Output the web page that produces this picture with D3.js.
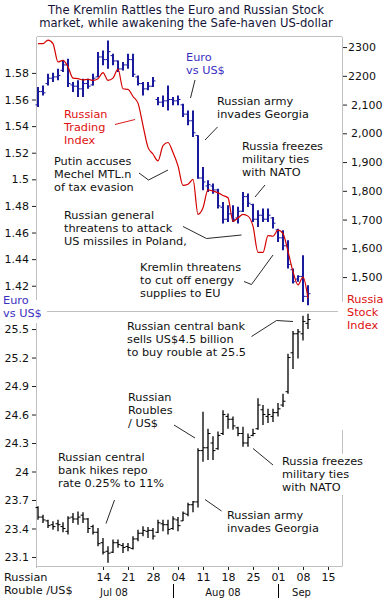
<!DOCTYPE html>
<html>
<head>
<meta charset="utf-8">
<script src="https://cdn.jsdelivr.net/npm/d3@7"></script>
<style>
  body { margin: 0; background: #fff; }
  svg text { font-family: "DejaVu Sans", Verdana, sans-serif; }
</style>
</head>
<body>
<div id="chart"></div>
<script>
// Trading days 25 Jun 2008 .. 9 Sep 2008 (index 0..54), weekly ticks on Mondays
const tickIdx    = [13, 18, 23, 28, 33, 38, 43, 48, 53, 58];
const tickLabels = ["14", "21", "28", "04", "11", "18", "25", "01", "08", "15"];
const monthSplit = [27, 48];
const monthLabels = [{ label: "Jul 08", at: 15.2 }, { label: "Aug 08", at: 37 }, { label: "Sep", at: 52.7 }];

// Euro vs US$ (OHLC)
const euroOpen  = [1.556,1.566,1.572,1.576,1.577,1.582,1.586,1.571,1.570,1.568,1.572,1.571,1.577,1.592,1.590,1.593,1.589,1.583,1.586,1.590,1.577,1.572,1.568,1.570,1.560,1.558,1.559,1.560,1.559,1.556,1.549,1.544,1.533,1.501,1.495,1.495,1.492,1.479,1.470,1.474,1.471,1.476,1.487,1.481,1.470,1.473,1.470,1.471,1.462,1.456,1.450,1.432,1.425,1.427,1.412];
const euroHigh  = [1.5694,1.5706,1.5794,1.5801,1.5832,1.5894,1.5907,1.5731,1.5744,1.5756,1.5756,1.5794,1.5957,1.5969,1.6044,1.5944,1.5894,1.5882,1.5944,1.5944,1.5781,1.5731,1.5731,1.5769,1.5619,1.5631,1.5706,1.5619,1.5631,1.5569,1.5518,1.5518,1.5331,1.5093,1.4993,1.4968,1.4930,1.4830,1.4805,1.4805,1.4793,1.4905,1.4893,1.4817,1.4767,1.4780,1.4780,1.4717,1.4629,1.4617,1.4542,1.4329,1.4279,1.4429,1.4203];
const euroLow   = [1.5544,1.5631,1.5706,1.5731,1.5744,1.5807,1.5694,1.5656,1.5619,1.5619,1.5681,1.5706,1.5769,1.5857,1.5832,1.5857,1.5807,1.5819,1.5832,1.5769,1.5706,1.5631,1.5669,1.5694,1.5556,1.5544,1.5518,1.5556,1.5556,1.5468,1.5406,1.5318,1.5005,1.4917,1.4905,1.4892,1.4780,1.4667,1.4680,1.4680,1.4667,1.4755,1.4792,1.4680,1.4642,1.4680,1.4680,1.4630,1.4529,1.4467,1.4329,1.4216,1.4229,1.4078,1.4053];
const euroClose = [1.566,1.565,1.576,1.577,1.578,1.586,1.572,1.570,1.568,1.572,1.570,1.576,1.592,1.590,1.596,1.589,1.583,1.586,1.590,1.579,1.572,1.568,1.570,1.574,1.558,1.559,1.560,1.559,1.560,1.549,1.544,1.535,1.501,1.498,1.496,1.492,1.480,1.470,1.474,1.470,1.476,1.487,1.482,1.470,1.473,1.470,1.473,1.467,1.456,1.450,1.436,1.423,1.427,1.412,1.414];

// Russian Trading (RTS) Index, close
const rtsClose = [2312,2312,2324,2312,2248,2254,2231,2192,2190,2186,2188,2184,2190,2211,2184,2192,2223,2155,2153,2128,2105,2027,1951,1928,1904,1957,1968,1933,1887,1819,1823,1840,1718,1741,1803,1799,1793,1784,1776,1694,1706,1718,1712,1677,1586,1586,1644,1642,1663,1651,1589,1519,1473,1500,1426];

// Russian Rouble / US$ (OHLC)
const rubOpen  = [23.62,23.52,23.48,23.44,23.45,23.42,23.37,23.52,23.50,23.54,23.50,23.42,23.36,23.25,23.16,23.15,23.25,23.22,23.21,23.19,23.29,23.35,23.37,23.38,23.36,23.45,23.44,23.40,23.49,23.48,23.55,23.65,23.68,24.22,24.25,24.30,24.24,24.40,24.58,24.55,24.46,24.40,24.30,24.38,24.45,24.65,24.58,24.58,24.62,24.70,24.84,25.25,25.45,25.45,25.56];
const rubHigh  = [23.633,23.545,23.493,23.475,23.493,23.465,23.528,23.563,23.580,23.570,23.510,23.440,23.406,23.301,23.213,23.283,23.283,23.248,23.248,23.318,23.388,23.423,23.416,23.406,23.493,23.493,23.493,23.528,23.521,23.580,23.670,23.690,24.245,24.628,24.450,24.370,24.420,24.646,24.610,24.580,24.470,24.470,24.400,24.450,24.770,24.700,24.660,24.660,24.720,24.820,25.240,25.480,25.500,25.640,25.660];
const rubLow   = [23.493,23.458,23.405,23.388,23.370,23.360,23.336,23.458,23.440,23.458,23.353,23.336,23.213,23.126,23.038,23.143,23.196,23.143,23.161,23.178,23.266,23.318,23.301,23.283,23.353,23.370,23.336,23.388,23.370,23.480,23.530,23.570,23.620,24.104,24.120,24.120,24.230,24.384,24.450,24.440,24.370,24.260,24.260,24.370,24.440,24.490,24.510,24.520,24.580,24.680,24.820,25.080,25.190,25.380,25.500];
const rubClose = [23.52,23.49,23.43,23.42,23.44,23.40,23.51,23.50,23.52,23.50,23.40,23.36,23.24,23.15,23.14,23.25,23.23,23.20,23.20,23.29,23.35,23.38,23.38,23.32,23.46,23.44,23.39,23.50,23.43,23.56,23.65,23.68,24.22,24.25,24.40,24.22,24.38,24.60,24.55,24.48,24.40,24.30,24.36,24.40,24.70,24.60,24.60,24.62,24.66,24.74,25.20,25.45,25.47,25.58,25.60];

// axis ticks
const euroTicks = [1.42, 1.44, 1.46, 1.48, 1.5, 1.52, 1.54, 1.56, 1.58];
const rtsTicks  = [1500, 1600, 1700, 1800, 1900, 2000, 2100, 2200, 2300];
const rtsTickLabels = ["1,500", "1,600", "1,700", "1,800", "1,900", "2,000", "2,100", "2200", "2300"];
const rubTicks  = [23.1, 23.4, 23.7, 24, 24.3, 24.6, 24.9, 25.2, 25.5];

const width = 387, height = 600;
const plotLeft = 37, plotRight = 342, plotTop = 37, plotMid = 311, plotBottom = 566;

const svg = d3.select("#chart").append("svg")
  .attr("width", width)
  .attr("height", height);

// scales
const x = d3.scaleLinear().domain([-0.2, 60.8]).range([plotLeft, plotRight]);
const yEuro = d3.scaleLinear().domain([1.401, 1.607]).range([plotMid, plotTop]);
const yRts = d3.scaleLinear().domain([1382, 2335]).range([plotMid, plotTop]);
const yRub = d3.scaleLinear().domain([23.005, 25.69]).range([plotBottom, plotMid]);

const frame = "#c0c0c0";
const num = v => String(+v.toFixed(2));

// title
svg.append("text")
  .attr("text-anchor", "middle")
  .attr("font-size", 11.6).attr("fill", "#141438")
  .selectAll("tspan")
  .data(["The Kremlin Rattles the Euro and Russian Stock", "market, while awakening the Safe-haven US-dollar"])
  .join("tspan")
  .attr("x", 186)
  .attr("y", (d, i) => 14 + i * 13)
  .text(d => d);

// frame lines
const frameLines = [
  [plotLeft, plotTop - 0.5, plotRight, plotTop - 0.5],
  [plotLeft - 0.5, plotTop, plotLeft - 0.5, 300],
  [plotLeft - 0.5, 323, plotLeft - 0.5, plotBottom + 2],
  [plotRight + 0.5, plotTop, plotRight + 0.5, 302],
  [plotRight + 0.5, 430, plotRight + 0.5, plotBottom],
  [47, plotMid + 0.5, 338, plotMid + 0.5],
  [plotLeft, plotBottom + 0.5, plotRight + 0.5, plotBottom + 0.5]
];
svg.append("g").selectAll("line").data(frameLines).join("line")
  .attr("x1", d => d[0]).attr("y1", d => d[1])
  .attr("x2", d => d[2]).attr("y2", d => d[3])
  .attr("stroke", frame).attr("stroke-width", 1);

// axes
function styleAxis(g) {
  g.select(".domain").remove();
  g.selectAll(".tick line").attr("stroke", "#222");
  g.selectAll(".tick text").attr("font-size", 11).attr("fill", "#111")
    .attr("font-family", "DejaVu Sans, Verdana, sans-serif");
}

svg.append("g")
  .attr("transform", `translate(${plotLeft - 1},0)`)
  .call(d3.axisLeft(yEuro).tickValues(euroTicks).tickFormat(num).tickSize(4).tickPadding(3))
  .call(styleAxis);

svg.append("g")
  .attr("transform", `translate(${plotRight + 1},0)`)
  .call(d3.axisRight(yRts).tickValues(rtsTicks).tickFormat((d, i) => rtsTickLabels[i]).tickSize(4).tickPadding(3))
  .call(styleAxis)
  .call(g => g.selectAll(".tick text").attr("x", d => d >= 2200 ? 5 : 8));

svg.append("g")
  .attr("transform", `translate(${plotLeft - 1},0)`)
  .call(d3.axisLeft(yRub).tickValues(rubTicks).tickFormat(num).tickSize(4).tickPadding(3))
  .call(styleAxis);

svg.append("g")
  .attr("transform", `translate(0,${plotBottom + 1})`)
  .call(d3.axisBottom(x).tickValues(tickIdx).tickFormat((d, i) => tickLabels[i]).tickSize(3).tickPadding(3))
  .call(styleAxis);

// month separators and labels
svg.append("g").selectAll("line").data(monthSplit).join("line")
  .attr("x1", d => Math.round(x(d)) + 0.5).attr("x2", d => Math.round(x(d)) + 0.5)
  .attr("y1", 584).attr("y2", 598)
  .attr("stroke", "#000");

svg.append("g").selectAll("text").data(monthLabels).join("text")
  .attr("x", d => x(d.at)).attr("y", 596)
  .attr("text-anchor", "middle")
  .attr("font-size", 10).attr("fill", "#111")
  .text(d => d.label);

// OHLC bars
function ohlc(g, o, h, l, c, y, color, w, tick) {
  const idx = d3.range(h.length);
  g.selectAll(".hl").data(idx).join("line").attr("class", "hl")
    .attr("x1", i => x(i)).attr("x2", i => x(i))
    .attr("y1", i => y(h[i])).attr("y2", i => y(l[i]))
    .attr("stroke", color).attr("stroke-width", w);
  g.selectAll(".op").data(idx).join("line").attr("class", "op")
    .attr("x1", i => x(i) - tick).attr("x2", i => x(i))
    .attr("y1", i => y(o[i])).attr("y2", i => y(o[i]))
    .attr("stroke", color).attr("stroke-width", 1);
  g.selectAll(".cl").data(idx).join("line").attr("class", "cl")
    .attr("x1", i => x(i)).attr("x2", i => x(i) + tick)
    .attr("y1", i => y(c[i])).attr("y2", i => y(c[i]))
    .attr("stroke", color).attr("stroke-width", 1);
}

ohlc(svg.append("g"), euroOpen, euroHigh, euroLow, euroClose, yEuro, "#1a1a9c", 2, 2.5);

// RTS line
svg.append("path")
  .datum(rtsClose)
  .attr("fill", "none")
  .attr("stroke", "#d40000")
  .attr("stroke-width", 1.2)
  .attr("d", d3.line().x((d, i) => x(i)).y(d => yRts(d)).curve(d3.curveMonotoneX));

ohlc(svg.append("g"), rubOpen, rubHigh, rubLow, rubClose, yRub, "#000", 1.3, 2.5);

// annotations
const notes = [
  { x: 186, y: 61, color: "#3a2fbf", lines: ["Euro", "vs US$"] },
  { x: 217, y: 105, color: "#111", lines: ["Russian army", "invades Georgia"] },
  { x: 64, y: 117.5, color: "#e01010", lines: ["Russian", "Trading", "Index"] },
  { x: 242, y: 150, color: "#111", lines: ["Russia freezes", "military ties", "with NATO"] },
  { x: 54, y: 165, color: "#111", lines: ["Putin accuses", "Mechel MTL.n", "of tax evasion"] },
  { x: 64, y: 219, color: "#111", lines: ["Russian general", "threatens to attack", "US missiles in Poland,"] },
  { x: 140, y: 271, color: "#111", lines: ["Kremlin threatens", "to cut off energy", "supplies to EU"] },
  { x: 3, y: 304, color: "#3a2fbf", lines: ["Euro", "vs US$"] },
  { x: 347, y: 303, color: "#dd1111", lines: ["Russia", "Stock", "Index"] },
  { x: 127, y: 330, color: "#111", lines: ["Russian central bank", "sells US$4.5 billion", "to buy rouble at 25.5"] },
  { x: 128, y: 401, color: "#111", lines: ["Russian", "Roubles", "/ US$"] },
  { x: 58, y: 461, color: "#111", lines: ["Russian central", "bank hikes repo", "rate 0.25% to 11%"] },
  { x: 282, y: 465, color: "#111", lines: ["Russia freezes", "military ties", "with NATO"], bg: true },
  { x: 227, y: 519, color: "#111", lines: ["Russian army", "invades Georgia"] },
  { x: 4, y: 581, color: "#111", lines: ["Russian", "Rouble /US$"] }
];

const connectors = [
  { color: "#111", pts: [[195, 80], [190.5, 98]] },
  { color: "#111", pts: [[217.5, 127], [205, 140]] },
  { color: "#d40000", pts: [[115, 124.5], [135, 119.5]] },
  { color: "#111", pts: [[265, 185], [255, 197]] },
  { color: "#111", pts: [[139, 173], [148.5, 180], [168, 170]] },
  { color: "#111", pts: [[183, 226.5], [206.5, 238.5], [241.5, 235]] },
  { color: "#111", pts: [[244, 281.5], [251.5, 284.5], [273, 255]] },
  { color: "#111", pts: [[251.5, 336.5], [276.5, 320.5], [293, 321.5]] },
  { color: "#111", pts: [[174, 425], [195, 438]] },
  { color: "#111", pts: [[114.5, 500], [106, 523.5]] },
  { color: "#111", pts: [[253, 448.5], [273, 465]] },
  { color: "#111", pts: [[205, 499.5], [221.5, 511]] }
];

svg.append("g").selectAll("path").data(connectors).join("path")
  .attr("fill", "none")
  .attr("stroke", d => d.color)
  .attr("stroke-width", 0.9)
  .attr("d", d => d3.line()(d.pts));

const noteG = svg.append("g").selectAll("g").data(notes).join("g");

noteG.filter(d => d.bg).append("rect")
  .attr("x", d => d.x - 2).attr("y", d => d.y - 11)
  .attr("width", 86).attr("height", d => d.lines.length * 13 + 2)
  .attr("fill", "#fff");

noteG.append("text")
  .attr("font-size", 11.3)
  .attr("fill", d => d.color)
  .selectAll("tspan")
  .data(d => d.lines.map((t, k) => ({ t, x: d.x, y: d.y + k * 13 })))
  .join("tspan")
  .attr("x", d => d.x)
  .attr("y", d => d.y)
  .text(d => d.t);
</script>
</body>
</html>
